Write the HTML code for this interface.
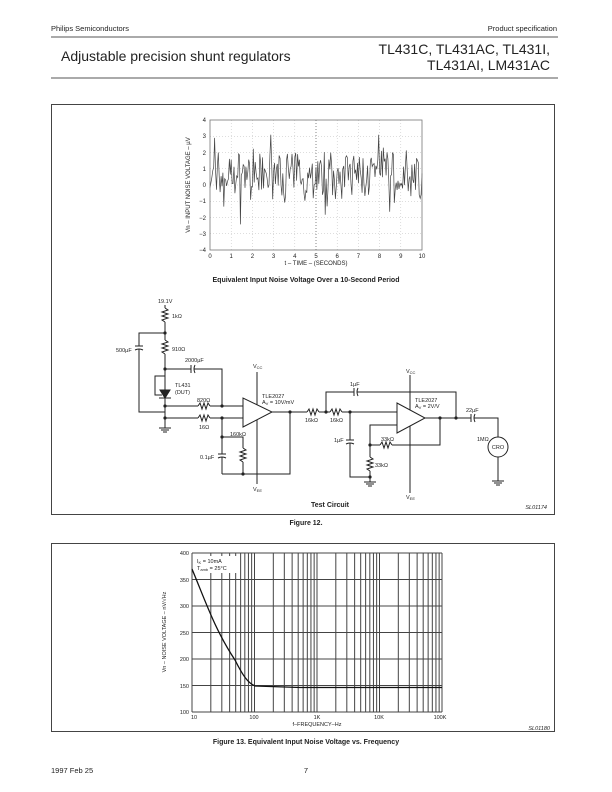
<!DOCTYPE html>
<html><head><meta charset="utf-8"><style>
html,body{margin:0;padding:0;background:#fff}
svg{display:block}
text{font-family:"Liberation Sans",Arial,sans-serif;fill:#222}
</style></head><body>
<svg id="s" width="612" height="792" viewBox="0 0 612 792" xmlns="http://www.w3.org/2000/svg">
<!-- header -->
<text x="51" y="31" font-size="7.5">Philips Semiconductors</text>
<text x="557" y="31" font-size="7.5" text-anchor="end">Product specification</text>
<line x1="51" y1="37" x2="558" y2="37" stroke="#555" stroke-width="1"/>
<text x="61" y="61" font-size="14">Adjustable precision shunt regulators</text>
<text x="550" y="54" font-size="14" text-anchor="end">TL431C, TL431AC, TL431I,</text>
<text x="550" y="70" font-size="14" text-anchor="end">TL431AI, LM431AC</text>
<line x1="51" y1="78" x2="558" y2="78" stroke="#555" stroke-width="1"/>

<!-- box 1 -->
<rect x="51.5" y="104.5" width="503" height="410" fill="none" stroke="#444" stroke-width="1"/>
<g id="plot1"></g>
<rect x="210" y="120" width="212" height="130" fill="none" stroke="#777" stroke-width="0.8"/>
<g font-size="6" text-anchor="end">
<text x="206" y="122">4</text><text x="206" y="138">3</text><text x="206" y="155">2</text><text x="206" y="171">1</text><text x="206" y="187">0</text><text x="206" y="203">−1</text><text x="206" y="220">−2</text><text x="206" y="236">−3</text><text x="206" y="252">−4</text>
</g>
<g font-size="6" text-anchor="middle" id="xl1"></g>
<text x="316" y="265" font-size="6" text-anchor="middle">t – TIME – (SECONDS)</text>
<text transform="translate(190,185) rotate(-90)" font-size="6" text-anchor="middle">Vn – INPUT NOISE VOLTAGE – µV</text>
<text x="306" y="282" font-size="7" font-weight="bold" text-anchor="middle">Equivalent Input Noise Voltage Over a 10-Second Period</text>

<!-- circuit -->
<g stroke="#222" stroke-width="1" fill="none">
<line x1="165" y1="305" x2="165" y2="308"/>
<polyline points="165,308 168,310 162,312 168,314 162,316 168,318 162,320 165,322"/>
<line x1="165" y1="322" x2="165" y2="340"/>
<polyline points="165,340 168,342 162,344 168,346 162,348 168,350 162,352 165,354"/>
<line x1="165" y1="354" x2="165" y2="390"/>
<line x1="165" y1="398" x2="165" y2="428"/>
<polyline points="165,333 139,333 139,346"/>
<line x1="135" y1="346" x2="143" y2="346"/><path d="M135,350 Q139,348 143,350"/>
<polyline points="139,349 139,412 165,412"/>
<polygon points="160,390 170,390 165,398" fill="#222"/>
<line x1="159" y1="398" x2="171" y2="398"/>
<polyline points="165,376 155,376 155,395 162,395"/>
<polyline points="165,369 191,369"/><line x1="191" y1="365" x2="191" y2="373"/><path d="M195,365 Q193,369 195,373"/>
<polyline points="194,369 222,369 222,406"/>
<line x1="165" y1="406" x2="198" y2="406"/>
<polyline points="198,406 200,403 202,409 204,403 206,409 208,403 210,406"/>
<line x1="210" y1="406" x2="243" y2="406"/>
<line x1="165" y1="418" x2="198" y2="418"/>
<polyline points="198,418 200,415 202,421 204,415 206,421 208,415 210,418"/>
<line x1="210" y1="418" x2="243" y2="418"/>
<line x1="159" y1="428" x2="171" y2="428"/><line x1="161" y1="430" x2="169" y2="430"/><line x1="163" y1="432" x2="167" y2="432"/>
<polygon points="243,398 243,427 272,412"/>
<line x1="257" y1="372" x2="257" y2="405"/>
<line x1="257" y1="420" x2="257" y2="484"/>
<line x1="272" y1="412" x2="307" y2="412"/>
<line x1="222" y1="418" x2="222" y2="454"/>
<line x1="218" y1="454" x2="226" y2="454"/><path d="M218,458 Q222,456 226,458"/>
<line x1="222" y1="457" x2="222" y2="474"/>
<polyline points="222,437 243,437 243,448"/>
<polyline points="243,448 246,450 240,452 246,454 240,456 246,458 240,460 243,462"/>
<polyline points="243,462 243,474"/>
<polyline points="222,474 290,474 290,412"/>
<polyline points="307,412 309,409 311,415 313,409 315,415 317,409 319,412"/>
<line x1="319" y1="412" x2="330" y2="412"/>
<polyline points="330,412 332,409 334,415 336,409 338,415 340,409 342,412"/>
<line x1="342" y1="412" x2="397" y2="412"/>
<polyline points="326,412 326,392 354,392"/>
<line x1="354" y1="388" x2="354" y2="396"/><path d="M358,388 Q356,392 358,396"/>
<polyline points="357,392 456,392 456,418"/>
<line x1="350" y1="412" x2="350" y2="440"/>
<line x1="346" y1="440" x2="354" y2="440"/><path d="M346,444 Q350,442 354,444"/>
<polyline points="350,443 350,477 370,477"/>
<polygon points="397,403 397,433 425,418"/>
<line x1="410" y1="375" x2="410" y2="410"/>
<line x1="410" y1="426" x2="410" y2="493"/>
<polyline points="397,425 370,425 370,457"/>
<polyline points="370,445 380,445"/>
<polyline points="380,445 382,442 384,448 386,442 388,448 390,442 392,445"/>
<polyline points="392,445 440,445 440,418"/>
<polyline points="370,457 373,459 367,461 373,463 367,465 373,467 367,469 370,471"/>
<line x1="370" y1="471" x2="370" y2="482"/>
<line x1="364" y1="482" x2="376" y2="482"/><line x1="366" y1="484" x2="374" y2="484"/><line x1="368" y1="486" x2="372" y2="486"/>
<line x1="425" y1="418" x2="471" y2="418"/>
<line x1="471" y1="414" x2="471" y2="422"/><path d="M475,414 Q473,418 475,422"/>
<polyline points="474,418 498,418 498,437"/>
<circle cx="498" cy="447" r="10"/>
<line x1="498" y1="457" x2="498" y2="481"/>
<line x1="492" y1="481" x2="504" y2="481"/><line x1="494" y1="483" x2="502" y2="483"/><line x1="496" y1="485" x2="500" y2="485"/>
</g>
<g fill="#222">
<circle cx="165" cy="333" r="1.6"/><circle cx="165" cy="369" r="1.6"/><circle cx="165" cy="406" r="1.6"/><circle cx="165" cy="418" r="1.6"/>
<circle cx="222" cy="406" r="1.6"/><circle cx="222" cy="418" r="1.6"/><circle cx="222" cy="437" r="1.6"/><circle cx="243" cy="474" r="1.6"/>
<circle cx="290" cy="412" r="1.6"/><circle cx="326" cy="412" r="1.6"/><circle cx="350" cy="412" r="1.6"/>
<circle cx="370" cy="445" r="1.6"/><circle cx="370" cy="477" r="1.6"/><circle cx="440" cy="418" r="1.6"/><circle cx="456" cy="418" r="1.6"/>
</g>
<g font-size="5.5">
<text x="158" y="303">19.1V</text>
<text x="172" y="318">1kΩ</text>
<text x="116" y="352">500µF</text>
<text x="172" y="351">910Ω</text>
<text x="185" y="362">2000µF</text>
<text x="175" y="387">TL431</text><text x="175" y="394">(DUT)</text>
<text x="197" y="402">820Ω</text>
<text x="199" y="429">16Ω</text>
<text x="253" y="368">V<tspan font-size="4" dy="1">CC</tspan></text>
<text x="262" y="398">TLE2027</text>
<text x="262" y="404">A<tspan font-size="4" dy="1">V</tspan><tspan dy="-1"> = 10V/mV</tspan></text>
<text x="230" y="436">160kΩ</text>
<text x="200" y="459">0.1µF</text>
<text x="253" y="491">V<tspan font-size="4" dy="1">EE</tspan></text>
<text x="305" y="422">16kΩ</text>
<text x="330" y="422">16kΩ</text>
<text x="350" y="386">1µF</text>
<text x="334" y="442">1µF</text>
<text x="406" y="373">V<tspan font-size="4" dy="1">CC</tspan></text>
<text x="415" y="402">TLE2027</text>
<text x="415" y="408">A<tspan font-size="4" dy="1">V</tspan><tspan dy="-1"> = 2V/V</tspan></text>
<text x="381" y="441">33kΩ</text>
<text x="375" y="467">33kΩ</text>
<text x="406" y="499">V<tspan font-size="4" dy="1">EE</tspan></text>
<text x="466" y="412">22µF</text>
<text x="477" y="441">1MΩ</text>
<text x="498" y="449" text-anchor="middle">CRO</text>
</g>
<text x="330" y="507" font-size="7" font-weight="bold" text-anchor="middle">Test Circuit</text>
<text x="547" y="509" font-size="5.5" font-style="italic" text-anchor="end">SL01174</text>
<text x="306" y="525" font-size="7" font-weight="bold" text-anchor="middle">Figure 12.</text>

<!-- box 2 -->
<rect x="51.5" y="543.5" width="503" height="188" fill="none" stroke="#444" stroke-width="1"/>
<g id="grid2"></g>
<g font-size="5.5" text-anchor="end">
<text x="189" y="555">400</text><text x="189" y="582">350</text><text x="189" y="608">300</text><text x="189" y="635">250</text><text x="189" y="661">200</text><text x="189" y="688">150</text><text x="189" y="714">100</text>
</g>
<g font-size="5.5" text-anchor="middle">
<text x="194" y="719">10</text><text x="254" y="719">100</text><text x="317" y="719">1K</text><text x="379" y="719">10K</text><text x="440" y="719">100K</text>
</g>
<text x="317" y="726" font-size="5.5" text-anchor="middle">f–FREQUENCY–Hz</text>
<text transform="translate(166,632) rotate(-90)" font-size="5.5" text-anchor="middle">Vn – NOISE VOLTAGE – nV/√Hz</text>
<rect x="195" y="556" width="45" height="17" fill="#fff"/>
<text x="197" y="563" font-size="5.5">I<tspan font-size="4" dy="1">K</tspan><tspan dy="-1"> = 10mA</tspan></text>
<text x="197" y="570" font-size="5.5">T<tspan font-size="4" dy="1">amb</tspan><tspan dy="-1"> = 25°C</tspan></text>
<path d="M192,569 C205,600 215,630 235,660 C243,676 248,683 255,686 L300,687.5 L442,687.5" fill="none" stroke="#111" stroke-width="1.3"/>
<text x="550" y="730" font-size="5.5" font-style="italic" text-anchor="end">SL01180</text>
<text x="306" y="744" font-size="7" font-weight="bold" text-anchor="middle">Figure 13.    Equivalent Input Noise Voltage vs. Frequency</text>

<text x="51" y="773" font-size="7.5">1997 Feb 25</text>
<text x="306" y="773" font-size="7.5" text-anchor="middle">7</text>
</svg>
<script>
(function(){
var NS="http://www.w3.org/2000/svg";
function el(p,t,a){var e=document.createElementNS(NS,t);for(var k in a)e.setAttribute(k,a[k]);p.appendChild(e);return e;}
var p1=document.getElementById("plot1");
for(var i=1;i<10;i++){var x=210+i*21.2;el(p1,"line",{x1:x,y1:120,x2:x,y2:250,stroke:i==5?"#666":"#bbb","stroke-width":i==5?0.8:0.5,"stroke-dasharray":"1,2"});}
for(var j=1;j<8;j++){var y=120+j*16.25;el(p1,"line",{x1:210,y1:y,x2:422,y2:y,stroke:"#bbb","stroke-width":0.5,"stroke-dasharray":"1,2"});}
var xl=document.getElementById("xl1");
for(var i=0;i<=10;i++){var t=el(xl,"text",{x:210+i*21.2,y:258});t.textContent=i;}
var seed=7;function r(){seed=(seed*16807)%2147483647;return seed/2147483647;}
var pts=[];var n=230;
for(var i=0;i<=n;i++){var x=210+i*212/n;var v=0.6+(r()-0.5)*2.4+(r()-0.5)*1.0;if(r()<0.08)v+=(r()<0.5?-1:1)*1.6;var y=185-v*16.25;y=Math.max(125,Math.min(245,y));pts.push(x.toFixed(1)+","+y.toFixed(1));}
el(p1,"polyline",{points:pts.join(" "),fill:"none",stroke:"#444","stroke-width":0.7});
var g=document.getElementById("grid2");
var L=192,R=442,T=553,B=712,D=62.5;
for(var d=0;d<4;d++)for(var k=1;k<=10;k++){var x=L+d*D+Math.log10(k)*D;el(g,"line",{x1:x,y1:T,x2:x,y2:B,stroke:"#444","stroke-width":1});}
el(g,"line",{x1:L,y1:T,x2:L,y2:B,stroke:"#444","stroke-width":1});
for(var j=0;j<=6;j++){var y=T+j*(B-T)/6;el(g,"line",{x1:L,y1:y,x2:R,y2:y,stroke:"#444","stroke-width":1});}
})();
</script>
</body></html>
